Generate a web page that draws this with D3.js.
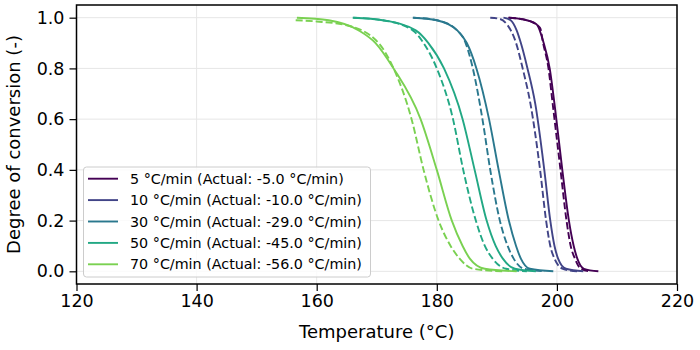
<!DOCTYPE html>
<html><head><meta charset="utf-8">
<script src="https://cdn.jsdelivr.net/npm/d3@7"></script>
<style>body{margin:0;background:#fff}svg{display:block;font-family:"DejaVu Sans",sans-serif}</style>
</head><body><svg id="c" width="700" height="350"></svg>
<script>
const rates = [5, 10, 30, 50, 70];
const actualRates = [-5.0, -10.0, -29.0, -45.0, -56.0];
const colors = ["#440154", "#414487", "#2a788e", "#22a884", "#7ad151"];
const xTicks = [120, 140, 160, 180, 200, 220];
const yTicks = [0.0, 0.2, 0.4, 0.6, 0.8, 1.0];

// [temperature, conversion] — solid = measured, dashed = model
const solid5  = [[191.9,1.0],[194.0,0.995],[196.6,0.974],[197.8,0.9],[198.8,0.8],[199.6,0.66],[200.9,0.4],[202.0,0.2],[202.8,0.1],[203.4,0.05],[204.5,0.01],[206.9,0.0]];
const dashed5 = [[192.0,1.0],[195.0,0.99],[197.2,0.96],[197.7,0.9],[198.6,0.8],[199.3,0.66],[200.6,0.4],[201.6,0.2],[202.3,0.1],[203.0,0.05],[204.0,0.01],[205.5,0.0]];
const solid10  = [[191.1,1.0],[192.3,0.99],[193.3,0.95],[194.0,0.9],[195.1,0.8],[196.4,0.66],[197.9,0.4],[198.9,0.2],[199.6,0.1],[200.2,0.05],[201.5,0.01],[204.4,0.0]];
const dashed10 = [[188.9,1.0],[190.5,0.995],[191.8,0.97],[193.2,0.9],[194.3,0.8],[195.6,0.66],[197.2,0.4],[198.2,0.2],[198.9,0.1],[199.6,0.05],[201.0,0.01],[203.5,0.0]];
const solid30  = [[176.1,1.0],[180.0,0.99],[183.4,0.95],[185.0,0.9],[186.6,0.8],[188.7,0.6],[190.3,0.4],[192.0,0.2],[193.2,0.1],[194.0,0.05],[195.5,0.01],[199.4,0.0]];
const dashed30 = [[176.0,1.0],[180.0,0.99],[183.4,0.95],[184.8,0.9],[186.0,0.8],[187.6,0.6],[188.9,0.4],[190.5,0.2],[191.8,0.1],[192.8,0.05],[194.5,0.01],[198.0,0.0]];
const solid50  = [[166.1,1.0],[171.0,0.99],[176.5,0.95],[178.6,0.9],[181.2,0.8],[184.3,0.6],[186.3,0.4],[188.3,0.2],[189.8,0.1],[191.0,0.05],[193.0,0.01],[196.5,0.0]];
const dashed50 = [[166.0,1.0],[171.0,0.99],[176.0,0.95],[177.8,0.9],[180.0,0.8],[182.7,0.6],[184.4,0.4],[186.5,0.2],[188.0,0.1],[189.3,0.05],[191.5,0.01],[195.0,0.0]];
const solid70  = [[156.7,1.0],[162.0,0.99],[167.0,0.95],[169.8,0.9],[172.8,0.8],[177.3,0.6],[180.0,0.4],[182.5,0.2],[184.3,0.1],[185.5,0.05],[188.0,0.01],[193.3,0.0]];
const dashed70 = [[156.5,0.99],[160.0,0.985],[165.0,0.97],[170.3,0.9],[172.8,0.8],[175.8,0.6],[177.8,0.4],[180.3,0.2],[182.3,0.1],[183.8,0.05],[186.0,0.01],[191.0,0.0]];

const solids = [solid5, solid10, solid30, solid50, solid70];
const dashes = [dashed5, dashed10, dashed30, dashed50, dashed70];

const svg = d3.select("#c");
const L = 76.5, R = 677, T = 5, B = 284;
const x = d3.scaleLinear().domain([120, 220]).range([L, R]);
const y = d3.scaleLinear().domain([-0.05, 1.05]).range([B, T]);

// grid
const g = svg.append("g");
g.selectAll(".gx").data(xTicks).join("line")
  .attr("x1", d => x(d)).attr("x2", d => x(d)).attr("y1", T).attr("y2", B)
  .attr("stroke", "#e6e6e6").attr("stroke-width", 1);
g.selectAll(".gy").data(yTicks).join("line")
  .attr("y1", d => y(d)).attr("y2", d => y(d)).attr("x1", L).attr("x2", R)
  .attr("stroke", "#e6e6e6").attr("stroke-width", 1);

const line = d3.line().x(d => x(d[0])).y(d => y(d[1])).curve(d3.curveMonotoneX);
const lines = svg.append("g").attr("fill", "none");
rates.forEach((r, i) => {
  lines.append("path").datum(solids[i]).attr("d", line)
    .attr("stroke", colors[i]).attr("stroke-width", 1.9);
  lines.append("path").datum(dashes[i]).attr("d", line)
    .attr("stroke", colors[i]).attr("stroke-width", 1.9).attr("stroke-dasharray", "7,3");
});

// axes
const xAxis = svg.append("g").attr("transform", `translate(0,${B})`)
  .call(d3.axisBottom(x).tickValues(xTicks).tickFormat(d3.format("d")).tickSizeOuter(0).tickSize(7).tickPadding(4));
const yAxis = svg.append("g").attr("transform", `translate(${L},0)`)
  .call(d3.axisLeft(y).tickValues(yTicks).tickFormat(d3.format(".1f")).tickSizeOuter(0).tickSize(7).tickPadding(5));
[xAxis, yAxis].forEach(a => {
  a.select(".domain").remove();
  a.selectAll("line").attr("stroke", "#000").attr("stroke-width", 1.2);
  a.selectAll("text").attr("font-size", "17.5px").attr("fill", "#000").attr("font-family", "DejaVu Sans");
});
svg.append("rect").attr("x", L).attr("y", T).attr("width", R - L).attr("height", B - T)
  .attr("fill", "none").attr("stroke", "#000").attr("stroke-width", 1.5);

svg.append("text").attr("x", (L + R) / 2).attr("y", 338).attr("text-anchor", "middle")
  .attr("font-size", "18px").text("Temperature (°C)");
svg.append("text").attr("transform", `translate(20,${(T + B) / 2}) rotate(-90)`)
  .attr("text-anchor", "middle").attr("font-size", "18px").text("Degree of conversion (-)");

// legend
const lg = svg.append("g");
lg.append("rect").attr("x", 83.5).attr("y", 167).attr("width", 287).attr("height", 110).attr("rx", 3)
  .attr("fill", "#fff").attr("fill-opacity", 0.8).attr("stroke", "#cccccc").attr("stroke-width", 1);
rates.forEach((r, i) => {
  const yy = 178.7 + i * 21.4;
  lg.append("line").attr("x1", 88).attr("x2", 118).attr("y1", yy).attr("y2", yy)
    .attr("stroke", colors[i]).attr("stroke-width", 1.9);
  lg.append("text").attr("x", 130).attr("y", yy).attr("dominant-baseline", "central")
    .attr("font-size", "14.3px").text(`${r} °C/min (Actual: ${actualRates[i].toFixed(1)} °C/min)`);
});
</script></body></html>
